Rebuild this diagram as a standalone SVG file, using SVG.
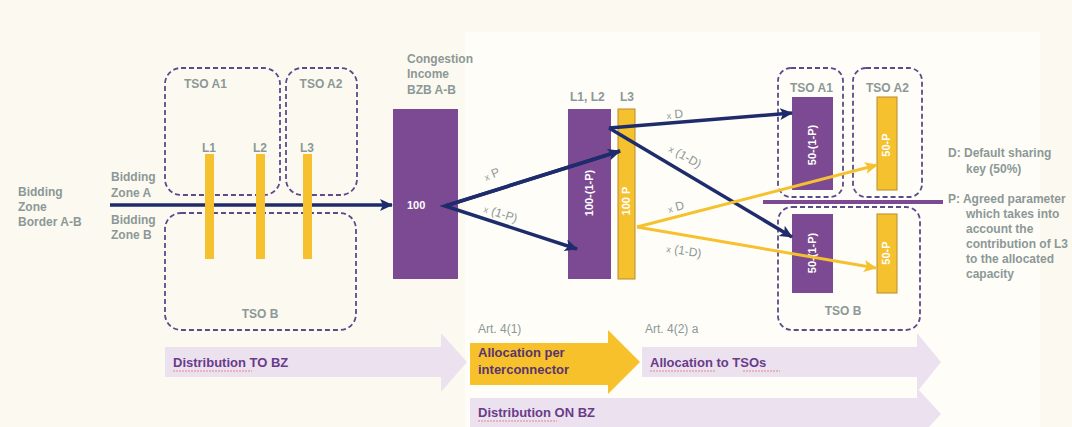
<svg xmlns="http://www.w3.org/2000/svg" width="1072" height="427" viewBox="0 0 1072 427">
<defs>
<style>
.t{font-family:"Liberation Sans",Arial,sans-serif;font-weight:bold;fill:#8c9897;font-size:12px}
.s{font-family:"Liberation Sans",Arial,sans-serif;fill:#8c9897;font-size:12px}
.w{font-family:"Liberation Sans",Arial,sans-serif;font-weight:bold;fill:#ffffff;font-size:11px}
.b{font-family:"Liberation Sans",Arial,sans-serif;font-weight:bold;fill:#6a3b8a;font-size:13px}
.art{font-family:"Liberation Sans Narrow","Liberation Sans",Arial,sans-serif;fill:#8c9897;font-size:12px}
.dash{fill:none;stroke:#5b4a8c;stroke-width:1.8;stroke-dasharray:5 3}
.pur{fill:#7c4a92}
.yel{fill:#f6c12e;stroke:#b98a2c;stroke-width:1}
.nav{fill:none;stroke:#1e2c6c;stroke-width:3.5}
.ylw{fill:none;stroke:#f6c12e;stroke-width:3}
.lav{fill:#ece2ef}
.sq{fill:none;stroke:#e06060;stroke-width:1;stroke-dasharray:2 1;opacity:.7}
</style>
<marker id="mn" markerUnits="userSpaceOnUse" markerWidth="14" markerHeight="12" refX="12" refY="6" orient="auto">
<path d="M0,0 L13,6 L0,12 L3,6 z" fill="#1e2c6c"/>
</marker>
<marker id="my" markerUnits="userSpaceOnUse" markerWidth="14" markerHeight="12" refX="12" refY="6" orient="auto">
<path d="M0,0 L13,6 L0,12 L3,6 z" fill="#f6c12e"/>
</marker>
</defs>
<rect width="1072" height="427" fill="#fcfaf0"/>
<rect x="465" y="32" width="575" height="395" fill="#fefdf8"/>

<g id="border-label">
<text class="t" x="18" y="196">Bidding</text>
<text class="t" x="18" y="211">Zone</text>
<text class="t" x="18" y="226">Border A-B</text>
</g>
<g id="zone-a"><text class="t" x="111" y="181">Bidding</text><text class="t" x="111" y="197">Zone A</text></g>
<g id="zone-b"><text class="t" x="111" y="224">Bidding</text><text class="t" x="111" y="239">Zone B</text></g>

<g id="tso-a1-left"><rect class="dash" x="165" y="68" width="115" height="127" rx="16"/><text class="t" x="184" y="88">TSO A1</text></g>
<g id="tso-a2-left"><rect class="dash" x="286" y="68" width="71" height="127" rx="16"/><text class="t" x="321" y="88" text-anchor="middle">TSO A2</text></g>
<g id="tso-b-left"><rect class="dash" x="165" y="213" width="191" height="117" rx="16"/><text class="t" x="260" y="318" text-anchor="middle">TSO B</text></g>

<g id="congestion-income">
<text class="t" x="407" y="63">Congestion</text>
<text class="t" x="407" y="78">Income</text>
<text class="t" x="407" y="94">BZB  A-B</text>
<rect class="pur" x="393" y="109" width="65" height="170"/>
<text class="w" x="407" y="209" font-size="12">100</text>
</g>

<g id="l12-bar">
<text class="t" x="570" y="101">L1, L2</text>
<rect class="pur" x="568" y="109" width="43" height="170"/>
<text class="w" transform="translate(593,193) rotate(-90)" text-anchor="middle">100-(1-P)</text>
</g>
<g id="l3-bar">
<text class="t" x="620" y="101">L3</text>
<rect class="yel" x="618" y="109" width="17" height="170"/>
<text class="w" font-size="10" transform="translate(630,201) rotate(-90)" text-anchor="middle">100 P</text>
</g>

<g id="tso-a1-right"><rect class="dash" x="778" y="68" width="65" height="129" rx="13"/><text class="t" x="790" y="92">TSO A1</text>
<rect class="pur" x="792" y="97" width="41" height="93"/>
<text class="w" font-size="10.5" transform="translate(816,145) rotate(-90)" text-anchor="middle">50-(1-P)</text></g>
<g id="tso-a2-right"><rect class="dash" x="853" y="68" width="69" height="129" rx="13"/><text class="t" x="866" y="92">TSO A2</text>
<rect class="yel" x="877" y="97" width="20" height="93"/>
<text class="w" font-size="10" transform="translate(890,145) rotate(-90)" text-anchor="middle">50-P</text></g>
<g id="separator"><line x1="763" y1="202" x2="943" y2="202" stroke="#7c4a92" stroke-width="4"/></g>
<g id="tso-b-right"><rect class="dash" x="778" y="207" width="142" height="123" rx="14"/><text class="t" x="843" y="315" text-anchor="middle">TSO B</text>
<rect class="pur" x="792" y="214" width="41" height="79"/>
<text class="w" font-size="10.5" transform="translate(816,253) rotate(-90)" text-anchor="middle">50-(1-P)</text>
<rect class="yel" x="877" y="214" width="20" height="79"/>
<text class="w" font-size="10" transform="translate(890,253) rotate(-90)" text-anchor="middle">50-P</text></g>

<g id="legend">
<text class="t" x="948" y="157">D: Default sharing</text>
<text class="t" x="966" y="173">key (50%)</text>
<text class="t" x="948" y="203">P: Agreed parameter</text>
<text class="t" x="966" y="218">which takes into</text>
<text class="t" x="966" y="233">account the</text>
<text class="t" x="966" y="248">contribution of L3</text>
<text class="t" x="966" y="263">to the allocated</text>
<text class="t" x="966" y="278">capacity</text>
</g>

<g id="connectors">
<line class="nav" x1="110" y1="205" x2="392" y2="205" marker-end="url(#mn)"/>
<polyline class="nav" points="620,151 445,206 577,249" stroke-linejoin="miter" marker-end="url(#mn)"/>
<line class="nav" x1="445" y1="206" x2="620" y2="151" marker-end="url(#mn)"/>
<line class="nav" x1="609" y1="128" x2="792" y2="113" marker-end="url(#mn)"/>
<line class="nav" x1="609" y1="128" x2="792" y2="237" marker-end="url(#mn)"/>
<line class="ylw" x1="637" y1="227" x2="877" y2="165" marker-end="url(#my)"/>
<line class="ylw" x1="637" y1="227" x2="876" y2="268" marker-end="url(#my)"/>
<text class="s" transform="translate(486,181) rotate(-22)"><tspan font-size="9">x</tspan> P</text>
<text class="s" transform="translate(483,212) rotate(18)"><tspan font-size="9">x</tspan> (1-P)</text>
<text class="s" transform="translate(667,119) rotate(-5)"><tspan font-size="9">x</tspan> D</text>
<text class="s" transform="translate(668,151) rotate(30)"><tspan font-size="9">x</tspan> (1-D)</text>
<text class="s" transform="translate(669,213) rotate(-15)"><tspan font-size="9">x</tspan> D</text>
<text class="s" transform="translate(666,252) rotate(9)"><tspan font-size="9">x</tspan> (1-D)</text>
</g>

<g id="lines-l123">
<text class="t" x="209" y="152" text-anchor="middle">L1</text>
<text class="t" x="260" y="152" text-anchor="middle">L2</text>
<text class="t" x="307" y="152" text-anchor="middle">L3</text>
<rect x="205" y="154" width="9" height="105" fill="#f6c12e"/>
<rect x="256" y="154" width="9" height="105" fill="#f6c12e"/>
<rect x="303" y="154" width="9" height="105" fill="#f6c12e"/>
</g>

<g id="steps">
<text class="art" x="478" y="333">Art. 4(1)</text>
<text class="art" x="645" y="333">Art. 4(2) a</text>
<g id="step-to-bz"><polygon class="lav" points="165,347 441,347 441,333 467,362 441,392 441,377 165,377"/>
<text class="b" x="173" y="367">Distribution TO BZ</text>
<path class="sq" d="M173,371 L252,371"/></g>
<g id="step-on-bz"><polygon class="lav" points="470,398 917,398 917,388 941,414 917,440 917,430 470,430"/>
<text class="b" x="478" y="417">Distribution ON BZ</text>
<path class="sq" d="M478,421 L557,421"/></g>
<g id="step-tsos"><polygon class="lav" points="642,347 917,347 917,333 941,362 917,392 917,377 642,377"/>
<text class="b" x="650" y="367">Allocation to TSOs</text>
<path class="sq" d="M650,371 L716,371 M743,371 L780,371"/></g>
<g id="step-interconnector"><polygon points="470,343 608,343 608,330 640,362 608,394 608,385 470,385" fill="#f6c12a"/>
<text class="b" x="478" y="357" style="fill:#5a3470">Allocation per</text>
<text class="b" x="478" y="374" style="fill:#5a3470">interconnector</text></g>
</g>
</svg>
